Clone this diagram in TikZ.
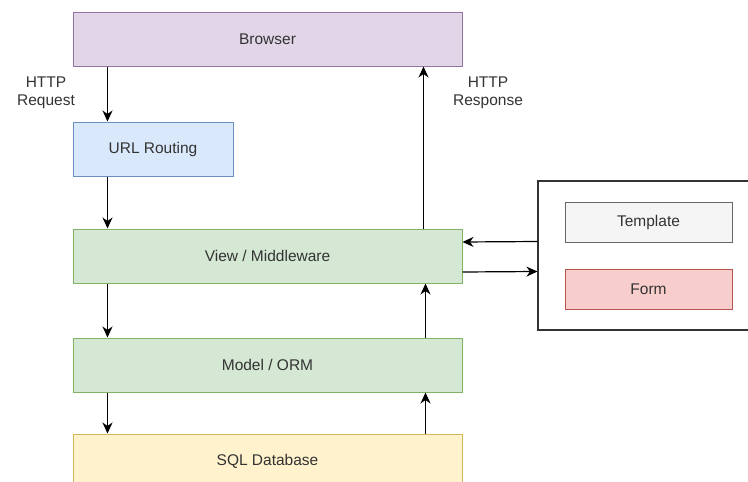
\documentclass[tikz,border=0pt]{standalone}
\usepackage{fontspec}
\setmainfont{Liberation Sans}
\usetikzlibrary{arrows.meta, positioning}

\definecolor{txtgray}{HTML}{333333}
\definecolor{purplefill}{HTML}{E1D5E7}
\definecolor{purpleline}{HTML}{9673A6}
\definecolor{bluefill}{HTML}{DAE8FC}
\definecolor{blueline}{HTML}{6C8EBF}
\definecolor{greenfill}{HTML}{D5E8D4}
\definecolor{greenline}{HTML}{82B366}
\definecolor{yellowfill}{HTML}{FFF2CC}
\definecolor{yellowline}{HTML}{D6B656}
\definecolor{grayfill}{HTML}{F5F5F5}
\definecolor{grayline}{HTML}{666666}
\definecolor{redfill}{HTML}{F8CECC}
\definecolor{redline}{HTML}{B85450}

\begin{document}
\begin{tikzpicture}[x=1pt,y=-1pt,
  every node/.style={font=\fontsize{15.5}{18}\selectfont, text=txtgray},
  layer/.style={draw, line width=1pt, minimum width=389pt, minimum height=54pt, inner sep=0pt},
  part/.style={draw, line width=1pt, minimum width=167pt, minimum height=40pt, inner sep=0pt},
  flow/.style={draw, -{Stealth[length=11pt,width=10pt,inset=3.5pt]}, line width=1.2pt}]

  \fill[white] (0,0) rectangle (748,482);
  \clip (0,0) rectangle (748,482);

% define the layers
  \node[layer, fill=purplefill, draw=purpleline] (browser) at (267.5,39) {Browser};
  \node[layer, fill=bluefill, draw=blueline, minimum width=160pt,
        below=55pt of browser.south west, anchor=north west] (url) {URL Routing};
  \node[layer, fill=greenfill, draw=greenline] (view) at (267.5,256) {View / Middleware};
  \node[layer, fill=greenfill, draw=greenline, below=54pt of view] (model) {Model / ORM};
  \node[layer, fill=yellowfill, draw=yellowline, below=41pt of model] (db) {SQL Database};

% the side box with template and form
  \node[draw=txtgray, line width=1.1pt, minimum width=220pt, minimum height=149pt] (side) at (648,255.5) {};
  \node[part, fill=grayfill, draw=grayline] (tmpl) at (648.5,222) {Template};
  \node[part, fill=redfill, draw=redline] (form) at (648.5,289.5) {Form};

% labels
  \node[align=center] (req) at (46,93) {HTTP\\Request};
  \node[align=center] (resp) at (488,93) {HTTP\\Response};

% define the links
  \draw[flow] ([xshift=35pt]browser.south west) -- ([xshift=35pt]url.north west);
  \draw[flow] ([xshift=35pt]url.south west) -- ([xshift=35pt]view.north west);
  \draw[flow] ([xshift=35pt]view.south west) -- ([xshift=35pt]model.north west);
  \draw[flow] ([xshift=35pt]model.south west) -- ([xshift=35pt]db.north west);
  \draw[flow] ([xshift=-39pt]view.north east) -- ([xshift=-39pt]browser.south east);
  \draw[flow] ([xshift=-37pt]model.north east) -- ([xshift=-37pt]view.south east);
  \draw[flow] ([xshift=-37pt]db.north east) -- ([xshift=-37pt]model.south east);
  \draw[flow] ([yshift=14pt]side.west) -- ([yshift=14pt]view.east);
  \draw[flow] ([yshift=-16pt]view.east) -- ([yshift=-16pt]side.west);

\end{tikzpicture}
\end{document}
